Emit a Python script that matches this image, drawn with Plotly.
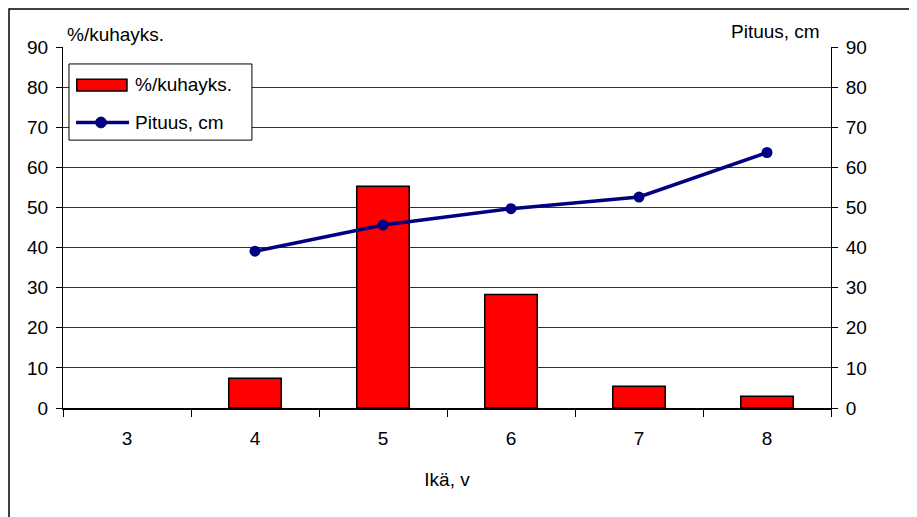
import plotly.graph_objects as go

# ages (years)
ages: list[str] = ["3", "4", "5", "6", "7", "8"]
# share of catch per age group, %
share_pct: list[float] = [0, 7.4, 55.3, 28.3, 5.4, 2.9]
# mean length per age group, cm (no fish measured at age 3)
length_cm: list = [None, 39.1, 45.6, 49.7, 52.6, 63.7]
y_ticks: list[int] = [0, 10, 20, 30, 40, 50, 60, 70, 80, 90]

RED = "#FF0000"
NAVY = "#000080"
font = dict(family="Liberation Sans, Arial, sans-serif", size=19, color="black")

fig = go.Figure()

fig.add_trace(
    go.Bar(
        x=ages,
        y=share_pct,
        name="%/kuhayks.",
        width=0.41,
        marker=dict(
            color=RED,
            # no outline for empty bars
            line=dict(color="black", width=[1.5 if v > 0 else 0 for v in share_pct]),
        ),
    )
)

fig.add_trace(
    go.Scatter(
        x=ages,
        y=length_cm,
        name="Pituus, cm",
        yaxis="y2",
        mode="lines+markers",
        line=dict(color=NAVY, width=3.5),
        marker=dict(color=NAVY, size=11),
    )
)

# hand-drawn Excel-style legend (paper coords)
legend_shapes = [
    dict(type="rect", x0=0.0078, x1=0.246, y0=0.742, y1=0.953,
         line=dict(color="black", width=1), fillcolor="white"),
    dict(type="rect", x0=0.018, x1=0.0833, y0=0.878, y1=0.911,
         line=dict(color="black", width=1.5), fillcolor=RED),
    dict(type="line", x0=0.017, x1=0.086, y0=0.791, y1=0.791,
         line=dict(color=NAVY, width=3.5)),
    dict(type="circle", x0=0.0425, x1=0.0565, y0=0.776, y1=0.806,
         line=dict(color=NAVY, width=1), fillcolor=NAVY),
]
for s in legend_shapes:
    s.update(xref="paper", yref="paper", layer="above")

fig.update_layout(
    width=917,
    height=517,
    margin=dict(l=55, r=94, t=39, b=117),
    paper_bgcolor="white",
    plot_bgcolor="white",
    font=font,
    showlegend=False,
    xaxis=dict(
        type="category",
        range=[-0.5, 5.5],
        tickson="boundaries",
        ticks="outside",
        ticklen=7,
        tickcolor="black",
        showline=True,
        linecolor="black",
        linewidth=1.5,
        showgrid=False,
        title=dict(text="Ikä, v", standoff=25, font=font),
        ticklabelstandoff=12,
    ),
    yaxis=dict(
        range=[0, 90],
        tickvals=y_ticks,
        ticks="outside",
        ticklen=6,
        tickcolor="black",
        showline=True,
        linecolor="black",
        linewidth=1,
        showgrid=True,
        gridcolor="#333333",
        gridwidth=1,
        zeroline=False,
        ticklabelstandoff=4,
    ),
    yaxis2=dict(
        range=[0, 90],
        tickvals=y_ticks,
        overlaying="y",
        side="right",
        ticks="outside",
        ticklen=6,
        tickcolor="black",
        showline=True,
        linecolor="black",
        linewidth=1,
        showgrid=False,
        zeroline=False,
        ticklabelstandoff=4,
    ),
    annotations=[
        dict(text="%/kuhayks.", xref="paper", yref="paper", x=0.003, y=1.0,
             xanchor="left", yanchor="bottom", showarrow=False, font=font),
        dict(text="Pituus, cm", xref="paper", yref="paper", x=0.988, y=1.0,
             xanchor="right", yanchor="bottom", showarrow=False, font=font, yshift=3),
        dict(text="%/kuhayks.", xref="paper", yref="paper", x=0.091, y=0.895,
             xanchor="left", yanchor="middle", showarrow=False, font=font),
        dict(text="Pituus, cm", xref="paper", yref="paper", x=0.091, y=0.792,
             xanchor="left", yanchor="middle", showarrow=False, font=font),
    ],
    shapes=[
        # outer chart border (only top and left visible in the crop)
        dict(
            type="rect", xref="paper", yref="paper",
            x0=-0.0703, x1=1.3, y0=-0.5, y1=1.105,
            line=dict(color="black", width=1.5), layer="below",
        )
    ]
    + legend_shapes,
)

fig.write_html("out.html")
